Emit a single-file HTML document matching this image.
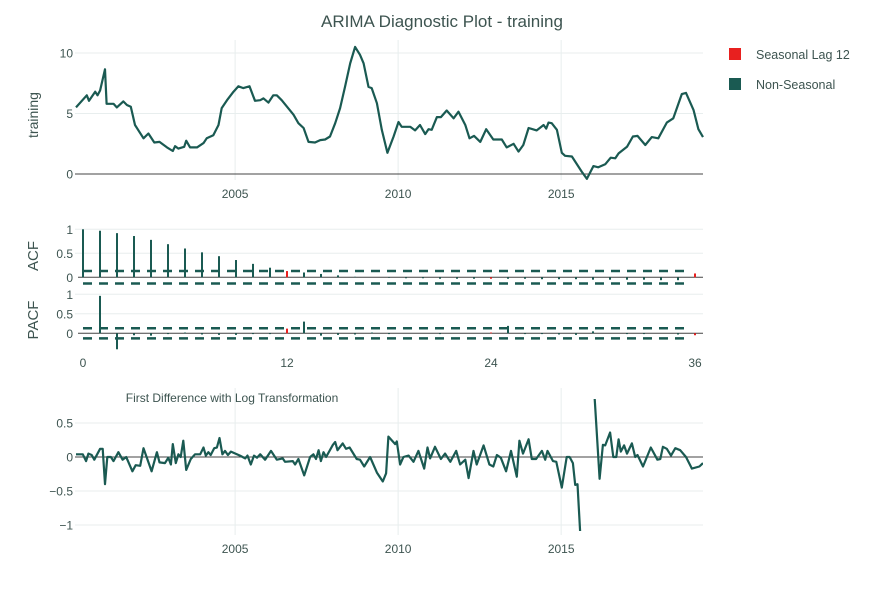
<!DOCTYPE html>
<html><head><meta charset="utf-8"><style>
body{margin:0;background:#fff;}
svg{font-family:"Liberation Sans",sans-serif;}
</style></head><body>
<svg id="c" width="884" height="592" xmlns="http://www.w3.org/2000/svg"></svg>
<script>
// ---- data ----
const levelYears=[2000.12,2000.45,2000.52,2000.71,2000.78,2000.86,2001.01,2001.06,2001.27,2001.37,2001.57,2001.68,2001.80,2001.93,2002.19,2002.34,2002.52,2002.68,2002.91,2003.09,2003.16,2003.26,2003.44,2003.50,2003.62,2003.83,2004.03,2004.13,2004.33,2004.49,2004.59,2004.75,2004.95,2005.10,2005.25,2005.44,2005.61,2005.77,2005.87,2006.02,2006.17,2006.28,2006.43,2006.79,2006.94,2007.10,2007.25,2007.45,2007.61,2007.76,2007.91,2008.07,2008.22,2008.37,2008.53,2008.68,2008.83,2008.94,2009.09,2009.19,2009.35,2009.50,2009.67,2009.86,2010.01,2010.11,2010.37,2010.52,2010.67,2010.83,2010.93,2011.03,2011.19,2011.31,2011.49,2011.70,2011.85,2012.06,2012.19,2012.33,2012.52,2012.70,2012.92,2013.18,2013.33,2013.54,2013.69,2013.84,2014.00,2014.25,2014.46,2014.54,2014.61,2014.71,2014.87,2015.02,2015.12,2015.33,2015.63,2015.79,2015.99,2016.14,2016.35,2016.52,2016.66,2016.76,2017.02,2017.20,2017.34,2017.58,2017.78,2017.98,2018.24,2018.44,2018.70,2018.83,2019.06,2019.21,2019.35];
const levelValues=[5.5,6.5,6.05,6.8,6.5,6.9,8.65,5.8,5.8,5.5,6.0,5.7,5.55,4.05,2.95,3.35,2.6,2.65,2.2,1.9,2.3,2.1,2.25,2.75,2.2,2.2,2.55,2.95,3.2,4.05,5.45,6.1,6.8,7.25,7.1,7.25,6.05,6.1,6.25,5.9,6.5,6.5,6.1,4.9,4.2,3.8,2.65,2.6,2.8,2.85,3.1,4.2,5.45,7.2,9.15,10.5,9.85,9.15,7.2,7.1,5.85,3.65,1.75,3.1,4.3,3.9,3.9,3.6,4.05,3.3,3.7,3.65,4.7,4.7,5.25,4.6,5.15,4.05,2.95,3.15,2.65,3.7,2.85,2.85,2.2,2.5,1.85,2.4,3.8,3.6,4.05,3.75,4.25,4.2,3.65,1.75,1.5,1.45,0.2,-0.4,0.65,0.55,0.8,1.35,1.3,1.7,2.25,3.1,3.15,2.4,3.05,2.95,4.25,4.6,6.6,6.7,5.3,3.7,3.05];
const diffYears=[2000.12,2000.33,2000.43,2000.50,2000.60,2000.68,2000.86,2000.94,2001.01,2001.08,2001.19,2001.27,2001.42,2001.55,2001.66,2001.85,2001.95,2002.09,2002.19,2002.44,2002.60,2002.68,2002.85,2002.95,2003.03,2003.09,2003.18,2003.26,2003.33,2003.41,2003.50,2003.64,2003.77,2003.93,2004.03,2004.10,2004.18,2004.25,2004.36,2004.44,2004.52,2004.61,2004.69,2004.78,2004.87,2005.15,2005.31,2005.38,2005.48,2005.58,2005.67,2005.77,2005.92,2006.10,2006.28,2006.46,2006.53,2006.77,2006.84,2006.94,2007.12,2007.30,2007.40,2007.48,2007.56,2007.63,2007.71,2007.79,2008.00,2008.07,2008.14,2008.30,2008.40,2008.51,2008.73,2008.83,2008.96,2009.14,2009.35,2009.53,2009.63,2009.70,2009.91,2009.96,2010.06,2010.16,2010.32,2010.47,2010.62,2010.80,2010.90,2010.98,2011.13,2011.31,2011.44,2011.60,2011.78,2011.90,2012.06,2012.16,2012.31,2012.41,2012.62,2012.80,2012.92,2013.03,2013.15,2013.31,2013.46,2013.64,2013.72,2013.83,2014.00,2014.10,2014.23,2014.41,2014.51,2014.58,2014.75,2014.85,2015.02,2015.17,2015.26,2015.36,2015.43,2015.50,2015.58,2015.80,2016.01,2016.18,2016.28,2016.35,2016.50,2016.60,2016.69,2016.76,2016.83,2016.93,2017.02,2017.17,2017.27,2017.34,2017.51,2017.75,2017.95,2018.04,2018.12,2018.24,2018.37,2018.50,2018.65,2018.83,2019.01,2019.24,2019.35];
const diffValues=[0.04,0.04,-0.06,0.05,0.03,-0.04,0.12,0.12,-0.40,0.0,0.0,-0.06,0.07,-0.04,0.0,-0.21,-0.12,-0.13,0.13,-0.21,0.07,-0.08,-0.09,-0.01,-0.11,0.19,-0.09,0.04,0.0,0.24,-0.19,-0.03,0.04,0.04,0.14,0.02,0.07,0.03,0.13,0.14,0.28,0.04,0.09,0.03,0.08,0.02,-0.02,0.02,-0.11,0.02,-0.01,0.04,-0.04,0.09,-0.04,-0.02,-0.07,-0.06,-0.11,-0.03,-0.27,0.0,0.04,-0.03,0.10,-0.06,0.07,0.0,0.18,0.22,0.10,0.20,0.12,0.14,-0.03,-0.04,-0.14,0.0,-0.23,-0.36,-0.24,0.30,0.19,0.23,-0.11,0.0,0.02,-0.07,0.09,-0.17,0.14,-0.02,0.15,-0.03,0.05,-0.07,0.09,-0.11,-0.04,-0.31,0.09,-0.11,0.17,-0.11,-0.14,0.03,-0.01,-0.21,0.09,-0.29,0.24,0.05,0.26,-0.03,-0.03,0.09,-0.04,0.09,-0.06,-0.07,-0.45,0.0,0.0,-0.09,-0.41,-0.40,-1.09,null,1.0,-0.32,0.18,0.17,0.36,0.0,0.0,0.26,0.08,0.17,0.05,0.20,0.0,0.03,-0.14,0.14,-0.04,-0.03,0.15,0.12,0.02,0.13,0.10,0.0,-0.17,-0.14,-0.09];
const acfValues=[1.0,0.97,0.92,0.86,0.78,0.69,0.60,0.52,0.44,0.36,0.28,0.20,0.13,0.10,0.07,0.04,0.01,0.0,-0.01,-0.02,-0.02,-0.03,-0.03,-0.03,-0.03,-0.03,-0.03,-0.04,-0.04,-0.04,-0.05,-0.05,-0.05,-0.05,-0.06,-0.06,0.08];
const pacfValues=[null,0.96,-0.41,-0.05,-0.06,-0.02,0.02,-0.03,-0.04,-0.04,-0.02,-0.02,0.12,0.30,-0.06,-0.04,-0.03,0.02,-0.02,0.0,0.0,-0.02,0.0,0.0,0.02,0.19,-0.02,-0.02,-0.03,-0.04,0.05,0.0,-0.02,-0.02,0.0,-0.03,-0.05];
const confBand=[0.13,-0.13];
const yearTicks=[2005,2010,2015];
const levelTicks=[0,5,10];
const acfTicks=[0,0.5,1];
const lagTicks=[0,12,24,36];
const diffTicks=[0.5,0,-0.5,-1];
const seasonalLags=[12,24,36];
</script>
<script>
const svg=document.getElementById('c');
const NS='http://www.w3.org/2000/svg';
const TXT='#3d5450', GRID='#e8eeee', LINE='#1a5a52', RED='#e8201f';
function mk(tag,attrs,parent){const e=document.createElementNS(NS,tag);for(const k in attrs)e.setAttribute(k,attrs[k]);(parent||svg).appendChild(e);return e;}
function lin(d0,d1,r0,r1){return v=>r0+(v-d0)/(d1-d0)*(r1-r0);}
const X0=75,X1=703,LX=73;
const xYear=lin(2000.12,2019.35,76,703);
const xLag=lin(0,36,83,695);
const yLev=lin(0,10,174,53);
const yAcf=lin(0,1,277.3,229.3);
const yPacf=lin(0,1,333.3,294.3);
const yDiff=lin(0,0.5,457,423);

let t=mk('text',{x:442,y:27,'text-anchor':'middle','font-size':17,fill:TXT});t.textContent='ARIMA Diagnostic Plot - training';


function grids(ticks,yf,g){ticks.forEach(v=>{if(v!==0){mk('line',{x1:X0,x2:X1,y1:yf(v),y2:yf(v),stroke:GRID},g);}
 const tx=mk('text',{x:LX,y:yf(v)+4.5,'text-anchor':'end','font-size':12,fill:TXT},g);tx.textContent=String(v).replace('-','\u2212');
 });}
function vgrid(yt,yb,g){yearTicks.forEach(y=>{mk('line',{x1:xYear(y),x2:xYear(y),y1:yt,y2:yb,stroke:GRID},g);});}
function xlabels(yy,g){yearTicks.forEach(y=>{const tx=mk('text',{x:xYear(y),y:yy,'text-anchor':'middle','font-size':12,fill:TXT},g);tx.textContent=y;
 });}
function pathOf(xs,ys,xf,yf){let d='',pen=false;for(let i=0;i<xs.length;i++){if(ys[i]===null){pen=false;continue;}d+=(pen?'L':'M')+xf(xs[i]).toFixed(1)+','+yf(ys[i]).toFixed(1);pen=true;}return d;}

const g1=mk('g',{});
vgrid(40,180,g1);grids(levelTicks,yLev,g1);
mk('line',{x1:X0,x2:X1,y1:yLev(0),y2:yLev(0),stroke:'#444','stroke-width':1},g1);
xlabels(198,g1);
let p=mk('path',{d:pathOf(levelYears,levelValues,xYear,yLev),fill:'none',stroke:LINE,'stroke-width':2.2,'stroke-linejoin':'round'},g1);

t=mk('text',{x:38,y:115,'text-anchor':'middle','font-size':14,fill:TXT,transform:'rotate(-90 38 115)'},g1);t.textContent='training';


function corrPanel(vals,yf,name,yt,yb,tickVals){
 const g=mk('g',{});
 tickVals.forEach(v=>{if(v!==0)mk('line',{x1:X0,x2:X1,y1:yf(v),y2:yf(v),stroke:GRID},g);
  const tx=mk('text',{x:LX,y:yf(v)+4.5,'text-anchor':'end','font-size':12,fill:TXT},g);tx.textContent=String(v);
  });
 confBand.forEach(c=>{const l=mk('line',{x1:xLag(0),x2:xLag(35.5),y1:yf(c),y2:yf(c),stroke:LINE,'stroke-width':2.5,'stroke-dasharray':'9,7'},g);
  });
 mk('line',{x1:X0+3,x2:X1,y1:yf(0),y2:yf(0),stroke:'#444','stroke-width':1},g);
 vals.forEach((v,i)=>{if(v===null)return;const red=seasonalLags.includes(i);
  const b=mk('line',{x1:xLag(i),x2:xLag(i),y1:yf(0),y2:yf(v),stroke:red?RED:LINE,'stroke-width':2},g);
  });
 const cy=(yt+yb)/2;
 const tx=mk('text',{x:38,y:cy,'text-anchor':'middle','font-size':15,fill:TXT,transform:'rotate(-90 38 '+cy+')'},g);tx.textContent=name.toUpperCase();
 
}
corrPanel(acfValues,yAcf,'acf',225,287,acfTicks);
corrPanel(pacfValues,yPacf,'pacf',290,350,acfTicks);
lagTicks.forEach(l=>{const tx=mk('text',{x:xLag(l),y:367,'text-anchor':'middle','font-size':12,fill:TXT});tx.textContent=l;
 });

const g3=mk('g',{});
vgrid(388,535,g3);grids(diffTicks,yDiff,g3);
mk('line',{x1:X0,x2:X1,y1:yDiff(0),y2:yDiff(0),stroke:'#444','stroke-width':1},g3);
xlabels(553,g3);
const cp=mk('clipPath',{id:'dc'});
mk('rect',{x:X0,y:399,width:X1-X0,height:132},cp);
p=mk('path',{d:pathOf(diffYears,diffValues,xYear,yDiff),fill:'none',stroke:LINE,'stroke-width':2.2,'stroke-linejoin':'round','clip-path':'url(#dc)'},g3);

t=mk('text',{x:232,y:402,'text-anchor':'middle','font-size':12,fill:TXT},g3);t.textContent='First Difference with Log Transformation';


const lg=mk('g',{});
[['Seasonal Lag 12',RED,54],['Non-Seasonal',LINE,84]].forEach(([n,c,y])=>{
 const e=mk('g',{},lg);
 mk('rect',{x:729,y:y-6,width:12,height:12,fill:c},e);
 const tx=mk('text',{x:756,y:y+5,'font-size':12.5,fill:TXT},e);tx.textContent=n;});
</script>
</body></html>
